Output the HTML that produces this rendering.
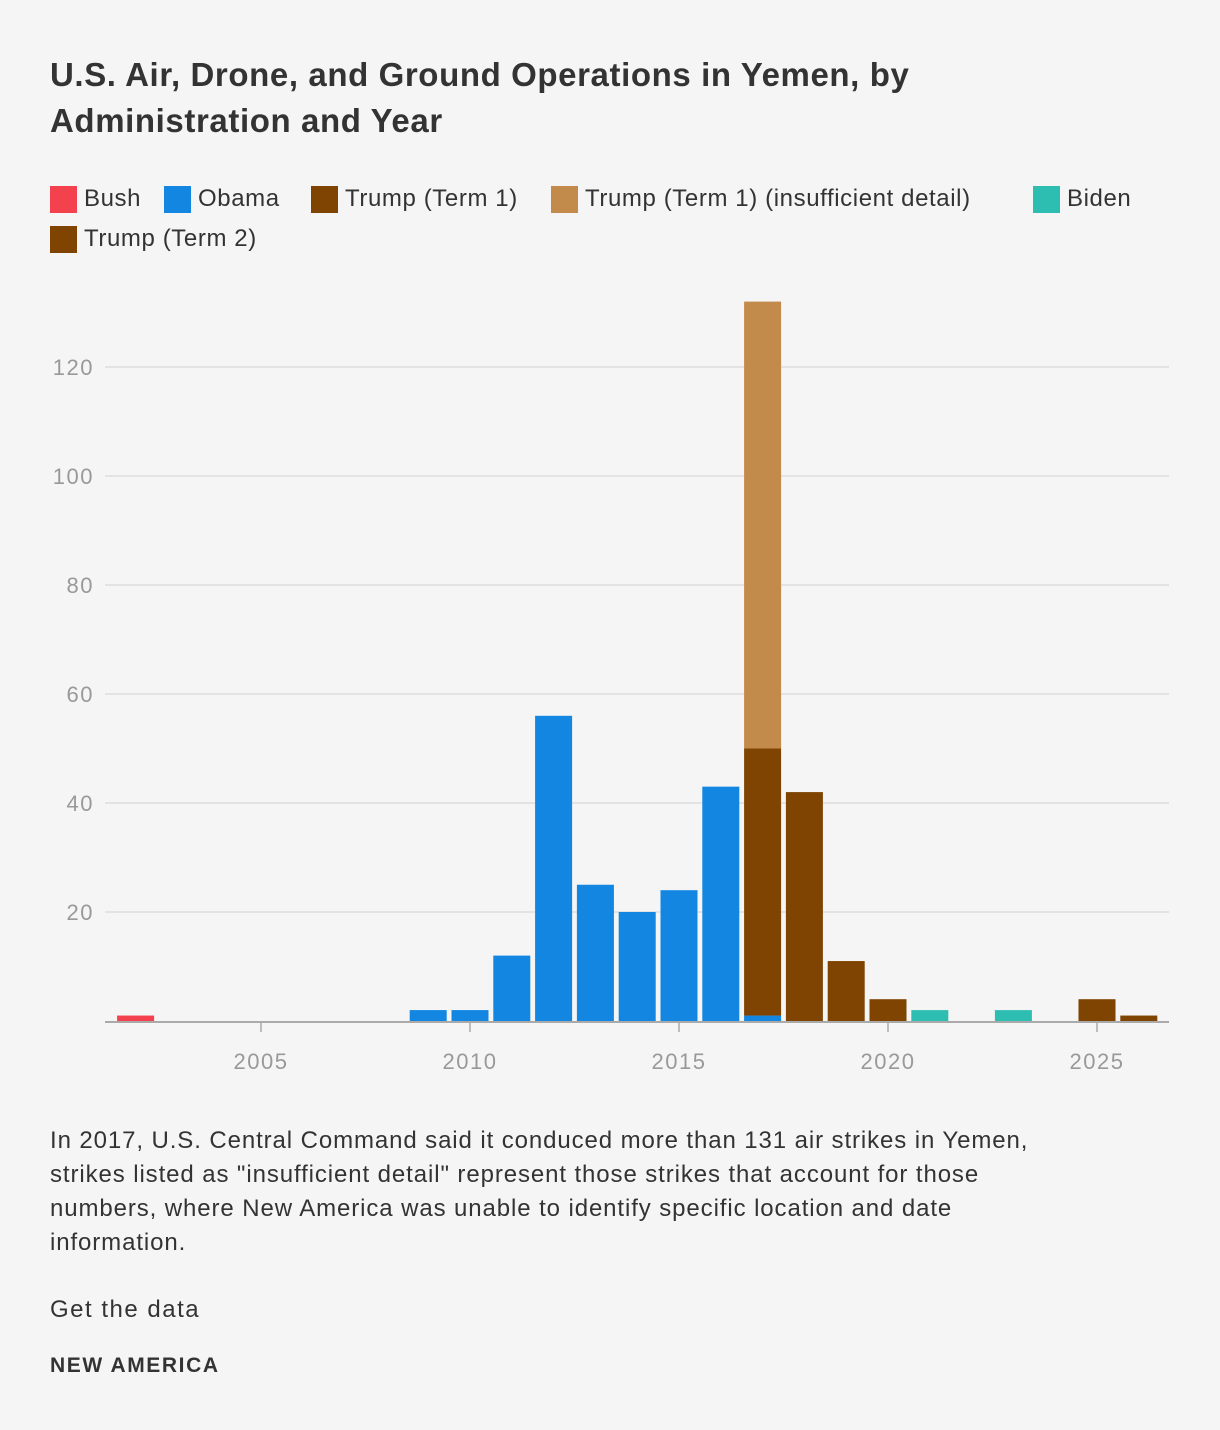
<!DOCTYPE html>
<html><head><meta charset="utf-8"><style>
body{margin:0;background:#f5f5f5;font-family:"Liberation Sans",sans-serif;}
#wrap{position:relative;width:1220px;height:1430px;background:#f5f5f5;}
h1{position:absolute;left:50px;top:52px;margin:0;font-size:33px;line-height:46px;font-weight:bold;color:#333;width:990px;letter-spacing:0.6px}
.leg{position:absolute;font-size:24px;color:#333;display:flex;align-items:center;height:30px;letter-spacing:0.6px}
.sw{width:27px;height:27px;margin-right:7px;display:inline-block}
.note{position:absolute;left:50px;top:1124px;font-size:24px;line-height:34px;color:#333;width:1030px;letter-spacing:0.9px}
</style></head><body><div id="wrap">
<h1>U.S. Air, Drone, and Ground Operations in Yemen, by Administration and Year</h1>
<div class="leg" style="left:50px;top:184px"><span class="sw" style="background:#f4414e"></span>Bush</div>
<div class="leg" style="left:164px;top:184px"><span class="sw" style="background:#1286e0"></span>Obama</div>
<div class="leg" style="left:311px;top:184px"><span class="sw" style="background:#7f4402"></span>Trump (Term 1)</div>
<div class="leg" style="left:551px;top:184px"><span class="sw" style="background:#c38b4b"></span>Trump (Term 1) (insufficient detail)</div>
<div class="leg" style="left:1033px;top:184px"><span class="sw" style="background:#2ebdb1"></span>Biden</div>
<div class="leg" style="left:50px;top:224px"><span class="sw" style="background:#7f4402"></span>Trump (Term 2)</div>
<svg id="chart" width="1220" height="1100" style="position:absolute;left:0;top:0"></svg>
<div class="note">In 2017, U.S. Central Command said it conduced more than 131 air strikes in Yemen, strikes listed as "insufficient detail" represent those strikes that account for those numbers, where New America was unable to identify specific location and date information.</div>
<div style="position:absolute;left:50px;top:1296px;font-size:24px;color:#333;letter-spacing:1.5px">Get the data</div>
<div style="position:absolute;left:50px;top:1354px;font-size:21px;font-weight:bold;color:#333;letter-spacing:1.6px">NEW AMERICA</div>
</div>
<script>
const years=[2002,2003,2004,2005,2006,2007,2008,2009,2010,2011,2012,2013,2014,2015,2016,2017,2018,2019,2020,2021,2022,2023,2024,2025,2026];
const bush=[1,0,0,0,0,0,0,0,0,0,0,0,0,0,0,0,0,0,0,0,0,0,0,0,0];
const obama=[0,0,0,0,0,0,0,2,2,12,56,25,20,24,43,1,0,0,0,0,0,0,0,0,0];
const trump1=[0,0,0,0,0,0,0,0,0,0,0,0,0,0,0,49,42,11,4,0,0,0,0,0,0];
const insufficient=[0,0,0,0,0,0,0,0,0,0,0,0,0,0,0,82,0,0,0,0,0,0,0,0,0];
const biden=[0,0,0,0,0,0,0,0,0,0,0,0,0,0,0,0,0,0,0,2,0,2,0,0,0];
const trump2=[0,0,0,0,0,0,0,0,0,0,0,0,0,0,0,0,0,0,0,0,0,0,0,4,1];
const yTicks=[20,40,60,80,100,120];
const xTicks=[2005,2010,2015,2020,2025];
const svg=document.getElementById('chart');const NS='http://www.w3.org/2000/svg';
const x=v=>261+(v-2005)*41.8, y=v=>1021-v*5.45;
function mk(t,a){const e=document.createElementNS(NS,t);for(const k in a)e.setAttribute(k,a[k]);svg.appendChild(e);return e;}
yTicks.forEach(t=>{const l=mk('line',{x1:105,x2:1169,y1:y(t),y2:y(t),stroke:'#ddd','stroke-width':1.5});


const tx=mk('text',{x:94,y:y(t)+8,'text-anchor':'end','font-size':22,fill:'#999','font-family':'Liberation Sans','letter-spacing':1.5});tx.textContent=t;

});
const series=[[bush,'#f4414e'],[obama,'#1286e0'],[trump1,'#7f4402'],[insufficient,'#c38b4b'],[biden,'#2ebdb1'],[trump2,'#7f4402']];
years.forEach((yr,i)=>{let base=0;series.forEach(([arr,c])=>{const v=arr[i];if(!v)return;
const r=mk('rect',{x:x(yr)-18.5,width:37,y:y(base+v),height:v*5.45,fill:c});


base+=v;});});
const ax=mk('line',{x1:105,x2:1169,y1:1022,y2:1022,stroke:'#aaa','stroke-width':2});


xTicks.forEach(t=>{const l=mk('line',{x1:x(t),x2:x(t),y1:1022,y2:1032,stroke:'#aaa','stroke-width':1.5});


const tx=mk('text',{x:x(t),y:1069,'text-anchor':'middle','font-size':22,fill:'#999','font-family':'Liberation Sans','letter-spacing':1.5});tx.textContent=t;

});
</script></body></html>
